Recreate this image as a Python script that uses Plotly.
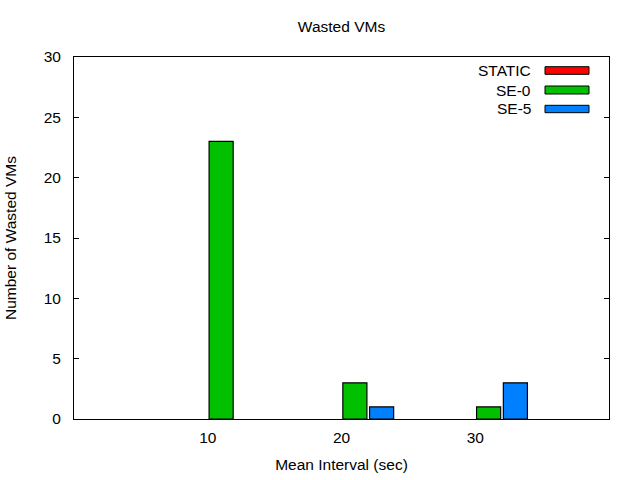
import plotly.graph_objects as go

# data
intervals = [10, 20, 30]
series_names = ['STATIC', 'SE-0', 'SE-5']
static_vms = [0, 0, 0]
se0_vms = [23, 3, 1]
se5_vms = [0, 1, 3]
colors = ['#ff0000', '#00c000', '#0080ff']

font = dict(family='Liberation Sans, Arial, sans-serif', size=15.5, color='black')

fig = go.Figure()
values = [static_vms, se0_vms, se5_vms]
offsets = [-1.9, 0.1, 2.1]
for name, vals, col, off in zip(series_names, values, colors, offsets):
    # zero-height boxes vanish into the axis in gnuplot
    widths = [1.2 if v else 0 for v in vals]
    fig.add_trace(go.Bar(x=intervals, y=vals, name=name, width=1.8, offset=off,
                         marker=dict(color=col, line=dict(color='black', width=widths))))

# gnuplot-style legend: text on the left, swatch on the right
L, R, T, B = 74, 609, 57, 419
def px(x):
    return (x - L) / (R - L)
def py(y):
    return (B - y) / (B - T)

swatch_rows = [(66.7, 74.3), (86, 94), (105.3, 112.7)]
for name, col, (y0, y1) in zip(series_names, colors, swatch_rows):
    fig.add_shape(type='rect', xref='paper', yref='paper',
                  x0=px(545), x1=px(589), y0=py(y1), y1=py(y0),
                  fillcolor=col, line=dict(color='black', width=1))
    fig.add_annotation(xref='paper', yref='paper', x=px(533), y=py((y0 + y1) / 2),
                       text=name, showarrow=False, xanchor='right', yanchor='middle',
                       font=font)

fig.update_layout(
    width=640, height=480,
    margin=dict(l=L, r=640 - R, t=T, b=480 - B, autoexpand=False),
    paper_bgcolor='white', plot_bgcolor='white',
    font=font,
    showlegend=False,
    barmode='overlay',
    title=dict(text='Wasted VMs', x=(L + R) / 2 / 640, xanchor='center', y=1 - 27 / 480, yanchor='middle',
               font=font),
    xaxis=dict(range=[0, 40], tickvals=intervals, ticks='', showgrid=False, zeroline=False,
               showline=True, linecolor='black', linewidth=1, mirror=True, ticklabelstandoff=4,
               title=dict(text='Mean Interval (sec)', standoff=14, font=font), tickfont=font),
    yaxis=dict(range=[0, 30], dtick=5, ticks='inside', ticklen=5, tickcolor='black',
               showgrid=False, zeroline=False, showline=True, linecolor='black', linewidth=1,
               mirror='ticks', ticklabelstandoff=9,
               title=dict(text='Number of Wasted VMs', standoff=23, font=font),
               tickfont=font),
)

fig.write_html('out.html', config={'displayModeBar': False},
               post_script="document.body.style.margin='0';")
